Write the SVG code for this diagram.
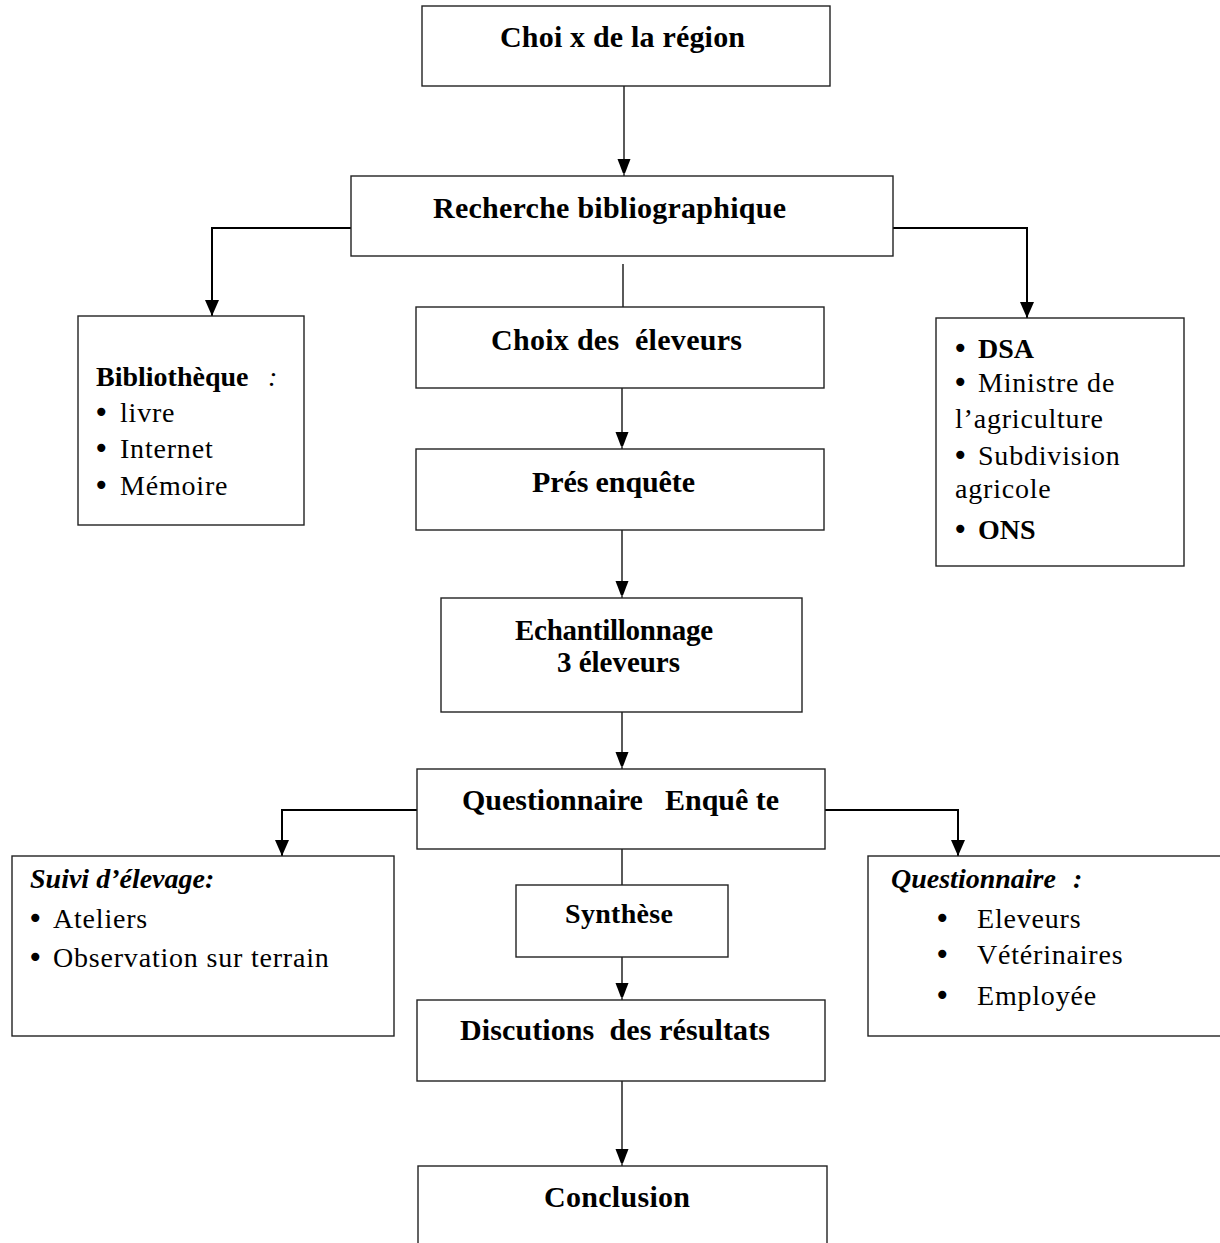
<svg xmlns="http://www.w3.org/2000/svg" width="1220" height="1243" viewBox="0 0 1220 1243">
<style>
  .box { fill: #fff; stroke: #222; stroke-width: 1.4; }
  .ln { fill: none; stroke: #000; stroke-width: 1.3; }
  .lnb { fill: none; stroke: #000; stroke-width: 2; }
  text { font-family: "Liberation Serif", "Times New Roman", serif; fill: #000; white-space: pre; }
  .h { font-size: 30px; font-weight: bold; }
  .hs { font-size: 28px; font-weight: bold; }
  .r { font-size: 28px; letter-spacing: 0.8px; }
  .rb { font-weight: bold; letter-spacing: 0; }
  .dot { font-family: "DejaVu Sans", sans-serif; font-weight: normal; letter-spacing: 0; }
  .bi { font-size: 28px; font-weight: bold; font-style: italic; }
  .it { font-style: italic; font-weight: normal; }
</style>
<defs>
  <marker id="arr" markerUnits="userSpaceOnUse" markerWidth="14" markerHeight="18" refX="17" refY="6.5" orient="auto">
    <path d="M0,0 L17,6.5 L0,13 z" fill="#000"/>
  </marker>
  <marker id="arrb" markerUnits="userSpaceOnUse" markerWidth="18" markerHeight="18" refX="16" refY="7" orient="auto">
    <path d="M0,0 L16,7 L0,14 z" fill="#000"/>
  </marker>
</defs>
<rect width="1220" height="1243" fill="#fff"/>

<g id="connectors">
  <line class="ln" x1="624" y1="86" x2="624" y2="176" marker-end="url(#arr)"/>
  <polyline class="lnb" points="351,228 212,228 212,316" marker-end="url(#arrb)"/>
  <polyline class="lnb" points="893,228 1027,228 1027,318" marker-end="url(#arrb)"/>
  <line class="ln" x1="623" y1="264" x2="623" y2="307"/>
  <line class="ln" x1="622" y1="388" x2="622" y2="449" marker-end="url(#arr)"/>
  <line class="ln" x1="622" y1="530" x2="622" y2="598" marker-end="url(#arr)"/>
  <line class="ln" x1="622" y1="712" x2="622" y2="769" marker-end="url(#arr)"/>
  <polyline class="lnb" points="417,810 282,810 282,856" marker-end="url(#arrb)"/>
  <polyline class="lnb" points="825,810 958,810 958,856" marker-end="url(#arrb)"/>
  <line class="ln" x1="622" y1="849" x2="622" y2="885"/>
  <line class="ln" x1="622" y1="957" x2="622" y2="1000" marker-end="url(#arr)"/>
  <line class="ln" x1="622" y1="1081" x2="622" y2="1166" marker-end="url(#arr)"/>
</g>

<g id="n-choix-region">
  <rect class="box" x="422" y="6" width="408" height="80"/>
  <text class="h" x="500" y="47" textLength="245">Choi x de la région</text>
</g>

<g id="n-recherche">
  <rect class="box" x="351" y="176" width="542" height="80"/>
  <text class="h" x="433" y="218" textLength="353">Recherche bibliographique</text>
</g>

<g id="n-bibliotheque">
  <rect class="box" x="78" y="316" width="226" height="209"/>
  <text class="hs" x="96" y="386">Bibliothèque<tspan class="it" x="268">:</tspan></text>
  <text class="r" x="93" y="422"><tspan class="dot">•</tspan><tspan x="120">livre</tspan></text>
  <text class="r" x="93" y="458"><tspan class="dot">•</tspan><tspan x="120">Internet</tspan></text>
  <text class="r" x="93" y="495"><tspan class="dot">•</tspan><tspan x="120">Mémoire</tspan></text>
</g>

<g id="n-sources">
  <rect class="box" x="936" y="318" width="248" height="248"/>
  <text class="r" x="952" y="358"><tspan class="dot">•</tspan><tspan class="rb" x="978">DSA</tspan></text>
  <text class="r" x="952" y="392"><tspan class="dot">•</tspan><tspan x="978">Ministre de</tspan></text>
  <text class="r" x="955" y="428">l’agriculture</text>
  <text class="r" x="952" y="465"><tspan class="dot">•</tspan><tspan x="978">Subdivision</tspan></text>
  <text class="r" x="955" y="498">agricole</text>
  <text class="r" x="952" y="539"><tspan class="dot">•</tspan><tspan class="rb" x="978">ONS</tspan></text>
</g>

<g id="n-choix-eleveurs">
  <rect class="box" x="416" y="307" width="408" height="81"/>
  <text class="h" x="491" y="350" textLength="251">Choix des  éleveurs</text>
</g>

<g id="n-pres-enquete">
  <rect class="box" x="416" y="449" width="408" height="81"/>
  <text class="h" x="532" y="492" textLength="163">Prés enquête</text>
</g>

<g id="n-echantillonnage">
  <rect class="box" x="441" y="598" width="361" height="114"/>
  <text class="h" x="515" y="640" textLength="198" style="font-size:29px">Echantillonnage</text>
  <text class="h" x="557" y="672" textLength="123" style="font-size:29px">3 éleveurs</text>
</g>

<g id="n-questionnaire-enquete">
  <rect class="box" x="417" y="769" width="408" height="80"/>
  <text class="h" x="462" y="810" textLength="317">Questionnaire   Enquê te</text>
</g>

<g id="n-suivi">
  <rect class="box" x="12" y="856" width="382" height="180"/>
  <text class="bi" x="30" y="888">Suivi d’élevage:</text>
  <text class="r" x="27" y="928"><tspan class="dot">•</tspan><tspan x="53">Ateliers</tspan></text>
  <text class="r" x="27" y="967"><tspan class="dot">•</tspan><tspan x="53">Observation sur terrain</tspan></text>
</g>

<g id="n-questionnaire">
  <rect class="box" x="868" y="856" width="360" height="180"/>
  <text class="bi" x="891" y="888">Questionnaire<tspan x="1073">:</tspan></text>
  <text class="r" x="934" y="928"><tspan class="dot">•</tspan><tspan x="977">Eleveurs</tspan></text>
  <text class="r" x="934" y="964"><tspan class="dot">•</tspan><tspan x="977">Vétérinaires</tspan></text>
  <text class="r" x="934" y="1005"><tspan class="dot">•</tspan><tspan x="977">Employée</tspan></text>
</g>

<g id="n-synthese">
  <rect class="box" x="516" y="885" width="212" height="72"/>
  <text class="hs" x="565" y="923" textLength="108">Synthèse</text>
</g>

<g id="n-discutions">
  <rect class="box" x="417" y="1000" width="408" height="81"/>
  <text class="h" x="460" y="1040" textLength="310">Discutions  des résultats</text>
</g>

<g id="n-conclusion">
  <rect class="box" x="418" y="1166" width="409" height="100"/>
  <text class="h" x="544" y="1207" textLength="146">Conclusion</text>
</g>
</svg>
